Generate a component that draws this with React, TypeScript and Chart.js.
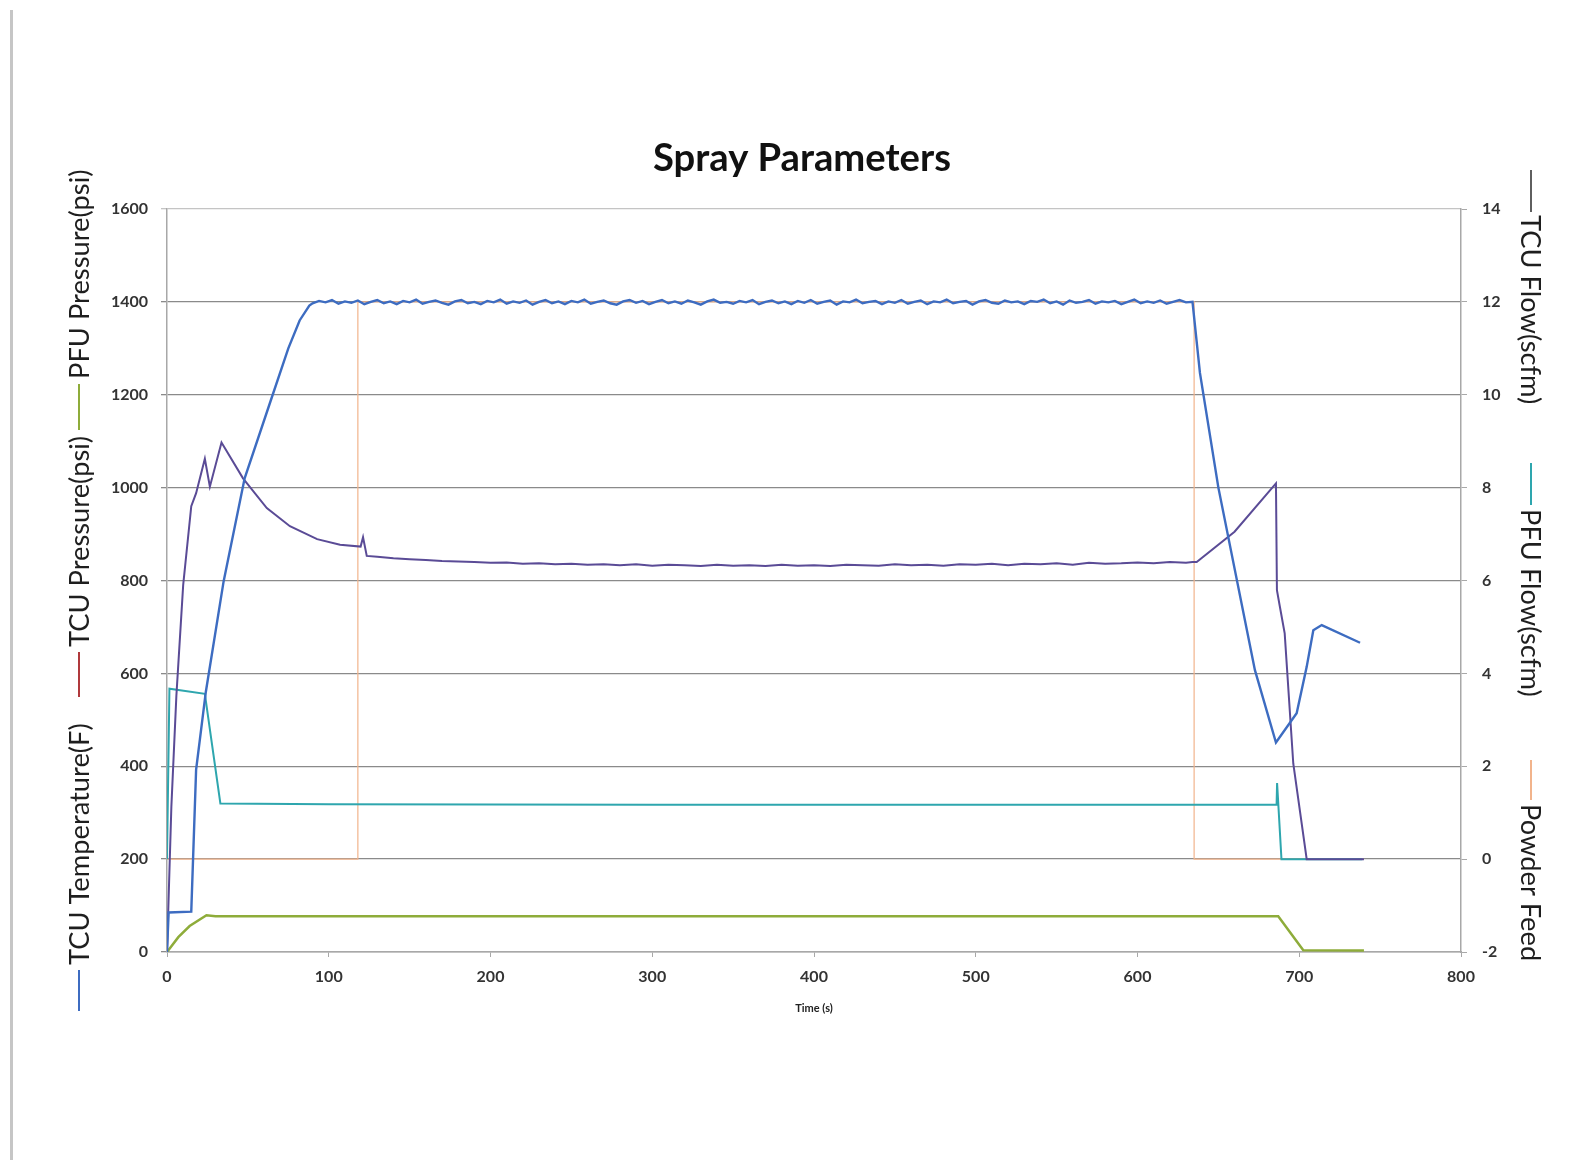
import React, { useEffect, useRef } from "react";
import { Chart, registerables } from "chart.js";

Chart.register(...registerables);

// ---------- data ----------
const chartTitle = "Spray Parameters";
const xTitle = "Time (s)";
const leftTitles = ["TCU Temperature(F)", "TCU Pressure(psi)", "PFU Pressure(psi)"];
const rightTitles = ["TCU Flow(scfm)", "PFU Flow(scfm)", "Powder Feed"];

const xTicks = { min: 0, max: 800, step: 100 };
const leftTicks = { min: 0, max: 1600, step: 200 };
const rightTicks = { min: -2, max: 14, step: 2 };

// TCU Temperature(F) – left axis
const tempTime = [
  0, 1, 15, 18, 24, 35, 48, 64, 75, 82, 88,
  90, 94, 98, 102, 106, 110, 114, 118, 122, 126,
  130, 134, 138, 142, 146, 150, 154, 158, 162, 166,
  170, 174, 178, 182, 186, 190, 194, 198, 202, 206,
  210, 214, 218, 222, 226, 230, 234, 238, 242, 246,
  250, 254, 258, 262, 266, 270, 274, 278, 282, 286,
  290, 294, 298, 302, 306, 310, 314, 318, 322, 326,
  330, 334, 338, 342, 346, 350, 354, 358, 362, 366,
  370, 374, 378, 382, 386, 390, 394, 398, 402, 406,
  410, 414, 418, 422, 426, 430, 434, 438, 442, 446,
  450, 454, 458, 462, 466, 470, 474, 478, 482, 486,
  490, 494, 498, 502, 506, 510, 514, 518, 522, 526,
  530, 534, 538, 542, 546, 550, 554, 558, 562, 566,
  570, 574, 578, 582, 586, 590, 594, 598, 602, 606,
  610, 614, 618, 622, 626, 630,
  634, 638.6, 650, 672.6, 685.6, 698.4, 704.6, 708.7, 713.9, 737.6,
];
const tempValue = [
  0, 85, 87, 393, 560, 798, 1020, 1186, 1300, 1360, 1392,
  1397, 1402, 1399, 1404, 1396, 1401, 1398, 1403, 1395, 1400,
  1404, 1397, 1401, 1395, 1402, 1399, 1405, 1396, 1400, 1403,
  1398, 1394, 1401, 1404, 1397, 1400, 1395, 1402, 1399, 1405,
  1396, 1401, 1398, 1403, 1394, 1400, 1404, 1397, 1401, 1395,
  1402, 1399, 1405, 1396, 1400, 1403, 1397, 1394, 1401, 1404,
  1398, 1402, 1395, 1400, 1404, 1397, 1401, 1396, 1403, 1399,
  1394, 1401, 1405, 1398, 1400, 1396, 1402, 1399, 1404, 1395,
  1400, 1403, 1397, 1401, 1395, 1402, 1398, 1404, 1396, 1400,
  1403, 1394, 1401, 1399, 1405, 1397, 1400, 1402, 1395, 1401,
  1398, 1404, 1396, 1400, 1403, 1395, 1401, 1399, 1405, 1397,
  1400, 1402, 1394, 1401, 1404, 1398, 1396, 1403, 1399, 1401,
  1395, 1402, 1400, 1405, 1397, 1401, 1394, 1403, 1398, 1400,
  1404, 1396, 1401, 1399, 1402, 1395, 1400, 1405, 1397, 1401,
  1398, 1403, 1396, 1400, 1404, 1399,
  1400, 1247, 1000, 607, 451, 514, 614, 693, 704, 666,
];

// TCU Flow(scfm) – right axis
const tcuFlowTime = [
  0, 2.7, 5.8, 10, 15, 18, 23.4, 26.5, 33.7, 47, 61.7, 76, 92.8, 107, 119.7, 121.2, 123.5,
  130, 140, 150, 160, 170, 180, 190, 200, 210, 220,
  230, 240, 250, 260, 270, 280, 290, 300, 310, 320,
  330, 340, 350, 360, 370, 380, 390, 400, 410, 420,
  430, 440, 450, 460, 470, 480, 490, 500, 510, 520,
  530, 540, 550, 560, 570, 580, 590, 600, 610, 620, 630,
  634, 636.6, 660, 685.6, 686.2, 688, 691, 696.3, 704.6, 740,
];
const tcuFlowValue = [
  -2, 1.13, 3.52, 5.9, 7.6, 7.88, 8.62, 8.02, 8.97, 8.2, 7.56, 7.17, 6.89, 6.77, 6.73, 6.93, 6.53,
  6.51, 6.48, 6.46, 6.44, 6.42, 6.41, 6.4, 6.38, 6.39, 6.36,
  6.37, 6.35, 6.36, 6.34, 6.35, 6.33, 6.35, 6.32, 6.34, 6.33,
  6.31, 6.34, 6.32, 6.33, 6.31, 6.34, 6.32, 6.33, 6.31, 6.34,
  6.33, 6.32, 6.35, 6.33, 6.34, 6.32, 6.35, 6.34, 6.36, 6.33,
  6.36, 6.35, 6.37, 6.34, 6.38, 6.36, 6.37, 6.39, 6.37, 6.4, 6.38,
  6.4, 6.4, 7.05, 8.09, 5.79, 5.44, 4.86, 2.06, 0, 0,
];

// PFU Flow(scfm) – right axis
const pfuFlowTime = [0, 1.5, 23.4, 33, 100, 300, 500, 686, 686.3, 689, 739];
const pfuFlowValue = [0, 3.67, 3.56, 1.2, 1.18, 1.17, 1.17, 1.17, 1.64, 0, 0];

// PFU Pressure(psi) – left axis
const pfuPressTime = [0, 7, 14, 24.4, 30, 687, 702.5, 740];
const pfuPressValue = [0, 32, 56, 79, 77, 77, 4, 3];

// Powder Feed – right axis
const powderTime = [0, 118, 118, 635, 635, 740];
const powderValue = [0, 0, 12, 12, 0, 0];

// ---------- styling ----------
const C_TEMP = "#3d6cc1";
const C_TCUP = "#b0393c";
const C_PFUP = "#8eac3a";
const C_TCUF = "#5a4b96";
const C_PFUF = "#2ea6ae";
const C_POWD = "#f2b48c";
const FONT = "Lato, 'Open Sans', sans-serif";

const pts = (xs: number[], ys: number[]) => xs.map((x, i) => ({ x, y: ys[i] }));

function fitSize(ctx: CanvasRenderingContext2D, text: string, weight: string, target: number) {
  ctx.font = `${weight} 20px ${FONT}`;
  const w = ctx.measureText(text).width;
  return (20 * target) / w;
}

const decor = {
  id: "decor",
  beforeDraw(chart: any) {
    const ctx = chart.ctx as CanvasRenderingContext2D;
    ctx.save();
    ctx.fillStyle = "#ffffff";
    ctx.fillRect(0, 0, chart.width, chart.height);
    ctx.fillStyle = "#c6c6c6";
    ctx.fillRect(10, 10, 3, chart.height - 10);
    ctx.restore();
  },
  afterDraw(chart: any) {
    const ctx = chart.ctx as CanvasRenderingContext2D;
    ctx.save();
    const ts = fitSize(ctx, chartTitle, "bold", 298);
    ctx.font = `bold ${ts}px ${FONT}`;
    ctx.fillStyle = "#111111";
    ctx.textAlign = "center";
    ctx.textBaseline = "middle";
    ctx.fillText(chartTitle, 802, 159);

    ctx.font = `bold 11px ${FONT}`;
    ctx.fillStyle = "#222222";
    ctx.fillText(xTitle, 814, 1008);

    const as = fitSize(ctx, leftTitles[0], "normal", 242);
    ctx.font = `normal ${as}px ${FONT}`;
    ctx.fillStyle = "#1e1e1e";
    ctx.textAlign = "left";
    ctx.textBaseline = "middle";
    ctx.lineWidth = 2;

    const leftItems = [
      { text: leftTitles[0], color: C_TEMP, m0: 1011, m1: 970, t: 965 },
      { text: leftTitles[1], color: C_TCUP, m0: 697, m1: 652, t: 647 },
      { text: leftTitles[2], color: C_PFUP, m0: 430, m1: 384, t: 379 },
    ];
    ctx.save();
    ctx.translate(79, 0);
    ctx.rotate(-Math.PI / 2);
    leftItems.forEach((it) => {
      ctx.strokeStyle = it.color;
      ctx.beginPath();
      ctx.moveTo(-it.m0, 0);
      ctx.lineTo(-it.m1, 0);
      ctx.stroke();
      ctx.fillText(it.text, -it.t, 1);
    });
    ctx.restore();

    const rightItems = [
      { text: rightTitles[0], color: "#5f5f5f", m0: 170, m1: 212, t: 215 },
      { text: rightTitles[1], color: C_PFUF, m0: 463, m1: 505, t: 509 },
      { text: rightTitles[2], color: C_POWD, m0: 760, m1: 800, t: 804 },
    ];
    ctx.save();
    ctx.translate(1531, 0);
    ctx.rotate(Math.PI / 2);
    rightItems.forEach((it) => {
      ctx.strokeStyle = it.color;
      ctx.beginPath();
      ctx.moveTo(it.m0, 0);
      ctx.lineTo(it.m1, 0);
      ctx.stroke();
      ctx.fillText(it.text, it.t, 1);
    });
    ctx.restore();
    ctx.restore();
  },
};

export default function App() {
  const ref = useRef<HTMLCanvasElement | null>(null);

  useEffect(() => {
    if (!ref.current) return;
    const tickFont = { family: FONT, size: 16, weight: "bold" as const };
    const plain = (v: any) => String(v);
    const chart = new Chart(ref.current, {
      type: "line",
      data: {
        datasets: [
          {
            label: leftTitles[0],
            data: pts(tempTime, tempValue),
            borderColor: C_TEMP,
            borderWidth: 2.4,
            yAxisID: "yL",
            order: 1,
          },
          {
            label: rightTitles[0],
            data: pts(tcuFlowTime, tcuFlowValue),
            borderColor: C_TCUF,
            borderWidth: 2,
            yAxisID: "yR",
            order: 2,
          },
          {
            label: rightTitles[1],
            data: pts(pfuFlowTime, pfuFlowValue),
            borderColor: C_PFUF,
            borderWidth: 2,
            yAxisID: "yR",
            order: 3,
          },
          {
            label: leftTitles[2],
            data: pts(pfuPressTime, pfuPressValue),
            borderColor: C_PFUP,
            borderWidth: 2.5,
            yAxisID: "yL",
            order: 4,
          },
          {
            label: rightTitles[2],
            data: pts(powderTime, powderValue),
            borderColor: C_POWD,
            borderWidth: 1.2,
            yAxisID: "yR",
            order: 5,
          },
        ],
      },
      options: {
        animation: false,
        responsive: true,
        maintainAspectRatio: false,
        layout: { padding: { top: 209, left: 0, right: 0, bottom: 0 } },
        elements: { point: { radius: 0 }, line: { tension: 0 } },
        plugins: { legend: { display: false }, tooltip: { enabled: false }, title: { display: false } },
        scales: {
          x: {
            type: "linear",
            min: xTicks.min,
            max: xTicks.max,
            ticks: { stepSize: xTicks.step, font: tickFont, color: "#333333", padding: 10, callback: plain },
            grid: { drawOnChartArea: false, drawTicks: true, tickLength: 5, color: "#a8a8a8" },
            border: { display: true, color: "#a8a8a8", width: 1.5 },
            afterFit: (s: any) => {
              s.height = 208;
            },
          },
          yL: {
            type: "linear",
            position: "left",
            min: leftTicks.min,
            max: leftTicks.max,
            ticks: { stepSize: leftTicks.step, font: tickFont, color: "#333333", padding: 13, callback: plain },
            grid: {
              drawOnChartArea: true,
              drawTicks: true,
              tickLength: 6,
              color: (c: any) => (c.tick && c.tick.value === leftTicks.max ? "#c4c4c4" : "#8a8a8a"),
              lineWidth: 1.3,
            },
            border: { display: true, color: "#a8a8a8", width: 1.5 },
            afterFit: (s: any) => {
              s.width = 167;
            },
          },
          yR: {
            type: "linear",
            position: "right",
            min: rightTicks.min,
            max: rightTicks.max,
            ticks: { stepSize: rightTicks.step, font: tickFont, color: "#333333", padding: 15, callback: plain },
            grid: { drawOnChartArea: false, drawTicks: true, tickLength: 6, color: "#a8a8a8" },
            border: { display: true, color: "#a8a8a8", width: 1.5 },
            afterFit: (s: any) => {
              s.width = 124;
            },
          },
        },
      },
      plugins: [decor],
    });
    return () => chart.destroy();
  }, []);

  return (
    <div style={{ position: "absolute", left: 0, top: 0, width: 1585, height: 1160, background: "#fff" }}>
      <canvas ref={ref} />
    </div>
  );
}
